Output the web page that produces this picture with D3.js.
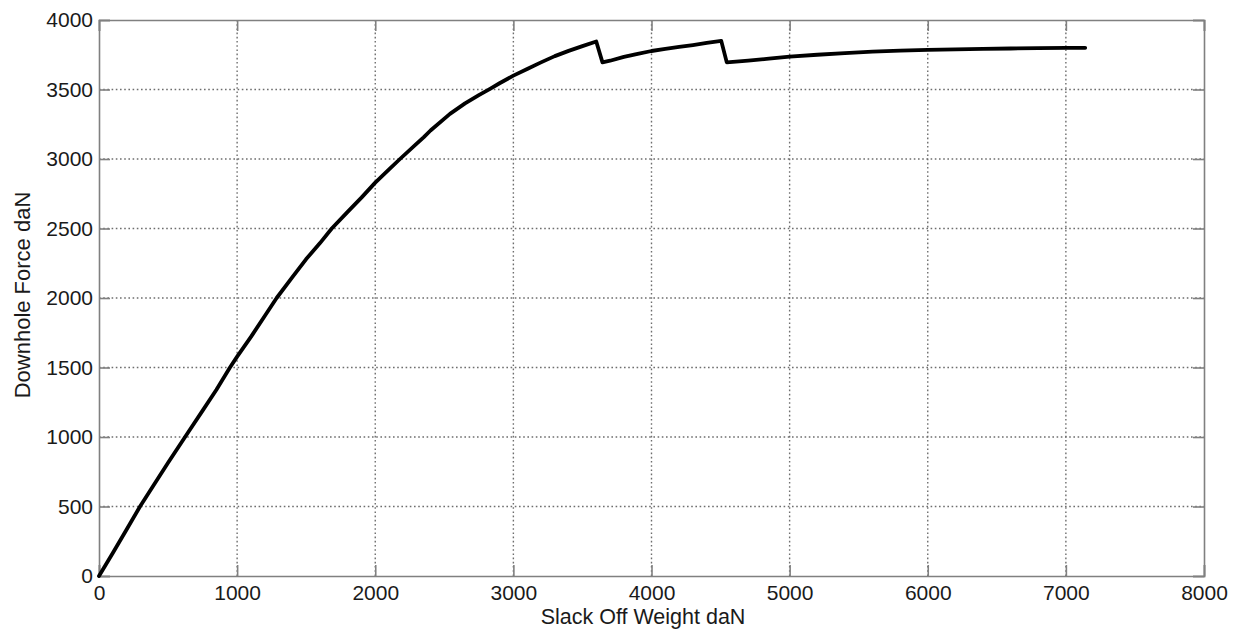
<!DOCTYPE html>
<html>
<head>
<meta charset="utf-8">
<script src="https://cdn.jsdelivr.net/npm/d3@7"></script>
<style>
  html, body { margin: 0; padding: 0; background: #fff; }
  text { font-family: "Liberation Sans", Arial, sans-serif; fill: #1a1a1a; }
</style>
</head>
<body>
<svg id="chart" width="1243" height="631"></svg>
<script>
// Slack-off weight (daN) vs. downhole force (daN)
const slackOff = [0, 100, 200, 297, 400, 500, 623, 750, 850, 948, 1000, 1100, 1200, 1286, 1400, 1500,
  1600, 1685, 1800, 1900, 2000, 2100, 2179, 2300, 2330, 2350, 2400, 2541, 2650, 2750, 2831, 2900,
  3000, 3100, 3200, 3300, 3400, 3500, 3600, 3645, 3700, 3800, 3900, 4000, 4100, 4200, 4300, 4400,
  4505, 4545, 4700, 4850, 5000, 5200, 5400, 5600, 5800, 6000, 6200, 6400, 6600, 6800, 7000, 7140];
const downhole = [0, 165, 335, 500, 660, 815, 1000, 1190, 1340, 1500, 1578, 1720, 1870, 2000, 2150, 2280,
  2395, 2500, 2620, 2722, 2830, 2925, 3000, 3110, 3138, 3156, 3205, 3325, 3400, 3460, 3505, 3545,
  3600, 3648, 3695, 3740, 3778, 3812, 3845, 3695, 3707, 3735, 3757, 3777, 3792, 3806, 3820, 3835,
  3850, 3695, 3708, 3722, 3736, 3750, 3762, 3772, 3779, 3785, 3789, 3792, 3795, 3798, 3800, 3800];

const xTicks = [0, 1000, 2000, 3000, 4000, 5000, 6000, 7000, 8000];
const yTicks = [0, 500, 1000, 1500, 2000, 2500, 3000, 3500, 4000];
const xTitle = "Slack Off Weight daN";
const yTitle = "Downhole Force daN";

const svg = d3.select("#chart");
const plotL = 99, plotR = 1204, plotT = 20, plotB = 576;

const x = d3.scaleLinear().domain([0, 8000]).range([plotL, plotR]);
const y = d3.scaleLinear().domain([0, 4000]).range([plotB, plotT]);

const frameColor = "#808080";
const gridColor = "#6e6e6e";

// dotted grid
const grid = svg.append("g");
grid.selectAll("line.gx").data(xTicks.slice(1, -1)).join("line")
  .attr("x1", d => x(d)).attr("x2", d => x(d))
  .attr("y1", plotT).attr("y2", plotB)
  .attr("stroke", gridColor).attr("stroke-width", 1.4)
  .attr("stroke-dasharray", "1.6,2.6");
grid.selectAll("line.gy").data(yTicks.slice(1, -1)).join("line")
  .attr("x1", plotL).attr("x2", plotR)
  .attr("y1", d => y(d)).attr("y2", d => y(d))
  .attr("stroke", gridColor).attr("stroke-width", 1.4)
  .attr("stroke-dasharray", "1.6,2.6");

// axes: ticks inward on all four sides
const tl = 11;
const axB = d3.axisBottom(x).tickValues(xTicks).tickSize(-tl).tickPadding(9).tickFormat(d3.format("d"));
const axT = d3.axisTop(x).tickValues(xTicks).tickSize(-tl).tickFormat("");
const axL = d3.axisLeft(y).tickValues(yTicks).tickSize(-tl).tickPadding(6).tickFormat(d3.format("d"));
const axR = d3.axisRight(y).tickValues(yTicks).tickSize(-tl).tickFormat("");

function style(g) {
  g.select(".domain").attr("stroke", frameColor).attr("stroke-width", 1.6);
  g.selectAll(".tick line").attr("stroke", frameColor).attr("stroke-width", 1.6);
  g.selectAll(".tick text").attr("font-size", 21).attr("fill", "#1a1a1a")
    .attr("font-family", "'Liberation Sans', Arial, sans-serif");
}
svg.append("g").attr("transform", `translate(0,${plotB})`).call(axB).call(style)
  .selectAll(".tick text").attr("dy", "0.71em");
svg.append("g").attr("transform", `translate(0,${plotT})`).call(axT).call(style);
svg.append("g").attr("transform", `translate(${plotL},0)`).call(axL).call(style);
svg.append("g").attr("transform", `translate(${plotR},0)`).call(axR).call(style);

// curve
const pts = slackOff.map((v, i) => [v, downhole[i]]);
svg.append("path")
  .datum(pts)
  .attr("fill", "none")
  .attr("stroke", "#000")
  .attr("stroke-width", 3.8)
  .attr("stroke-linejoin", "round")
  .attr("stroke-linecap", "round")
  .attr("d", d3.line().x(d => x(d[0])).y(d => y(d[1])));

// axis titles
svg.append("text")
  .attr("x", 643).attr("y", 624)
  .attr("text-anchor", "middle").attr("font-size", 21.5)
  .text(xTitle);
svg.append("text")
  .attr("transform", `translate(30,295) rotate(-90)`)
  .attr("text-anchor", "middle").attr("font-size", 22)
  .text(yTitle);
</script>
</body>
</html>
